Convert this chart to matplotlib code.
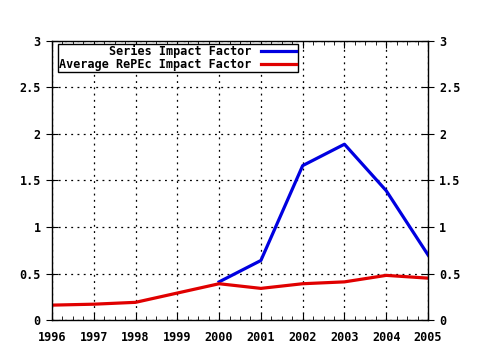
import matplotlib
matplotlib.use("Agg")
import matplotlib.pyplot as plt
from matplotlib.ticker import MultipleLocator, FormatStrFormatter

years = [1996, 1997, 1998, 1999, 2000, 2001, 2002, 2003, 2004, 2005]
avg_repec = [0.16, 0.17, 0.19, 0.29, 0.39, 0.34, 0.39, 0.41, 0.48, 0.45]
series_years = [2000, 2001, 2002, 2003, 2004, 2005]
series_if = [0.41, 0.64, 1.66, 1.89, 1.39, 0.70]

plt.rcParams["font.family"] = "DejaVu Sans Mono"
plt.rcParams["font.weight"] = "bold"
plt.rcParams["font.size"] = 8.5

fig = plt.figure(figsize=(4.8, 3.5), dpi=100)
ax = fig.add_axes([0.1083, 0.0857, 0.7834, 0.7972])

ax.plot(series_years, series_if, color="#0000e0", lw=2.3, label="Series Impact Factor")
ax.plot(years, avg_repec, color="#e00000", lw=2.3, label="Average RePEc Impact Factor")

ax.set_xlim(1996, 2005)
ax.set_ylim(0, 3)
ax.xaxis.set_major_locator(MultipleLocator(1))
ax.xaxis.set_minor_locator(MultipleLocator(0.25))
ax.xaxis.set_major_formatter(FormatStrFormatter("%d"))
ax.yaxis.set_major_locator(MultipleLocator(0.5))
ax.yaxis.set_major_formatter(FormatStrFormatter("%g"))
ax.grid(True, which="major", color="black", linestyle=(0, (1.5, 3.5)), lw=0.9)

ax.tick_params(axis="x", which="both", direction="in", top=True, bottom=True, pad=8)
ax.tick_params(axis="x", which="major", length=5)
ax.tick_params(axis="x", which="minor", length=3)
ax.tick_params(axis="y", which="major", direction="inout", left=True, right=True,
               labelleft=True, labelright=True, length=8, pad=4)
for s in ax.spines.values():
    s.set_linewidth(1.0)

leg = ax.legend(loc="upper left", markerfirst=False, fancybox=False, frameon=True,
                edgecolor="black", framealpha=1, borderaxespad=0.25, borderpad=0.1,
                handlelength=3.0, handletextpad=0.8, labelspacing=0.0,
                bbox_to_anchor=(0.008, 1.0))
leg.get_frame().set_linewidth(1.0)

fig.savefig("out.png", dpi=100)
